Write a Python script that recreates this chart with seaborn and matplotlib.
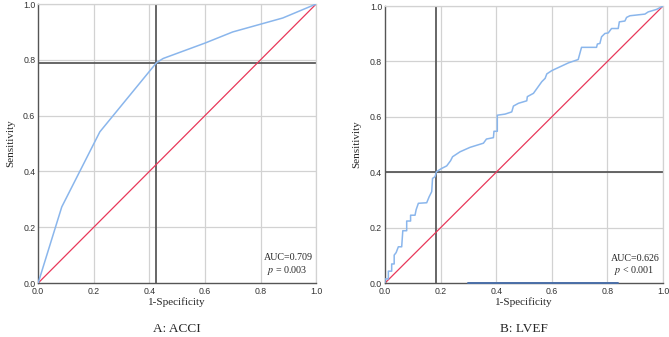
import matplotlib
matplotlib.use("Agg")
import matplotlib.pyplot as plt
import seaborn as sns
import pandas as pd

# ROC curve ACCI (1-specificity, sensitivity)
acci_fpr = [0.0, 0.085, 0.222, 0.426, 0.45, 0.6, 0.7, 0.88, 1.0]
acci_tpr = [0.0, 0.273, 0.542, 0.790, 0.805, 0.86, 0.90, 0.95, 1.0]
acci_cut = (0.425, 0.79)

# ROC curve LVEF (step curve)
lvef_fpr = [0.0, 0.0, 0.012, 0.012, 0.024, 0.024, 0.033, 0.033, 0.040, 0.048,
            0.060, 0.064, 0.078, 0.078, 0.092, 0.092, 0.108, 0.112, 0.120, 0.150,
            0.159, 0.168, 0.171, 0.180, 0.185, 0.204, 0.222, 0.236, 0.243, 0.270,
            0.306, 0.354, 0.365, 0.390, 0.392, 0.404, 0.404, 0.432, 0.456, 0.462,
            0.480, 0.510, 0.512, 0.534, 0.564, 0.576, 0.582, 0.600, 0.630, 0.660,
            0.695, 0.701, 0.707, 0.761, 0.764, 0.773, 0.779, 0.791, 0.803, 0.815,
            0.839, 0.843, 0.863, 0.869, 0.881, 0.935, 0.947, 0.977, 1.0]
lvef_tpr = [0.0, 0.015, 0.015, 0.043, 0.043, 0.069, 0.069, 0.101, 0.110, 0.131,
            0.131, 0.189, 0.189, 0.224, 0.224, 0.245, 0.245, 0.265, 0.288, 0.290,
            0.312, 0.330, 0.378, 0.384, 0.402, 0.414, 0.423, 0.442, 0.456, 0.474,
            0.490, 0.505, 0.520, 0.525, 0.548, 0.548, 0.606, 0.610, 0.618, 0.639,
            0.649, 0.658, 0.673, 0.685, 0.727, 0.739, 0.755, 0.767, 0.781, 0.795,
            0.807, 0.829, 0.851, 0.851, 0.863, 0.865, 0.889, 0.901, 0.903, 0.919,
            0.919, 0.943, 0.946, 0.959, 0.965, 0.971, 0.979, 0.988, 1.0]
lvef_cut = (0.185, 0.40)
lvef_base = [0.30, 0.838]

panels = [
    ("A: ACCI", acci_fpr, acci_tpr, acci_cut, "AUC=0.709", "$p$ = 0.003"),
    ("B: LVEF", lvef_fpr, lvef_tpr, lvef_cut, "AUC=0.626", "$p$ < 0.001"),
]
ticks = [0.0, 0.2, 0.4, 0.6, 0.8, 1.0]
tick_labels = ["0.0", "0.2", "0.4", "0.6", "0.8", "1.0"]

sns.set_style("white")
plt.rcParams["mathtext.fontset"] = "stix"

fig = plt.figure(figsize=(6.69, 3.37), dpi=100)
rects = [[0.057, 0.160, 0.4155, 0.828], [0.5755, 0.160, 0.4155, 0.822]]

for i, (cap, fpr, tpr, cut, auc, pval) in enumerate(panels):
    ax = fig.add_axes(rects[i])
    df = pd.DataFrame({"fpr": fpr, "tpr": tpr})
    for t in ticks[1:]:
        ax.axvline(t, color="#d2d2d2", lw=0.9, zorder=0)
        ax.axhline(t, color="#d2d2d2", lw=0.9, zorder=0)
    ax.axvline(cut[0], color="#5a5a5a", lw=1.3, zorder=1)
    ax.axhline(cut[1], color="#5a5a5a", lw=1.3, zorder=1)
    sns.lineplot(data=pd.DataFrame({"x": ticks, "y": ticks}), x="x", y="y",
                 color="#e8385a", lw=0.9, ax=ax, zorder=2)
    sns.lineplot(data=df, x="fpr", y="tpr", sort=False, estimator=None,
                 color="#8ab6ec", lw=1.1, ax=ax, zorder=3)
    if i == 1:
        sns.lineplot(x=lvef_base, y=[0, 0], color="#4a6fa8", lw=1.4, ax=ax,
                     zorder=4, clip_on=False)
    ax.set_xlim(0, 1)
    ax.set_ylim(0, 1)
    ax.set_xticks(ticks)
    ax.set_yticks(ticks)
    ax.set_xticklabels(tick_labels, fontsize=6.3, color="#333333", family="Liberation Sans")
    ax.set_yticklabels(tick_labels, fontsize=6.3, color="#333333", family="Liberation Sans")
    ax.tick_params(axis="x", length=0, pad=2.5)
    ax.tick_params(axis="y", length=0, pad=2)
    for s in ["left", "bottom"]:
        ax.spines[s].set_color("#555555")
        ax.spines[s].set_linewidth(1.0)
    for s in ["top", "right"]:
        ax.spines[s].set_color("#d2d2d2")
        ax.spines[s].set_linewidth(0.9)
    ax.set_xlabel("1-Specificity", family="Liberation Serif", fontsize=8, labelpad=1.5)
    ax.set_ylabel("Sensitivity", family="Liberation Serif", fontsize=8, labelpad=6)
    ax.text(0.988, 0.09, auc, ha="right", va="center", fontsize=7.2,
            family="Liberation Serif", transform=ax.transAxes)
    ax.text(0.968, 0.044, pval, ha="right", va="center", fontsize=7.2,
            family="Liberation Serif", transform=ax.transAxes)
    ax.text(0.5, -0.165, cap, ha="center", va="center", fontsize=9.5,
            family="Liberation Serif", transform=ax.transAxes)
    ax.set_facecolor("white")

fig.savefig("out.png", dpi=100, facecolor="white")
